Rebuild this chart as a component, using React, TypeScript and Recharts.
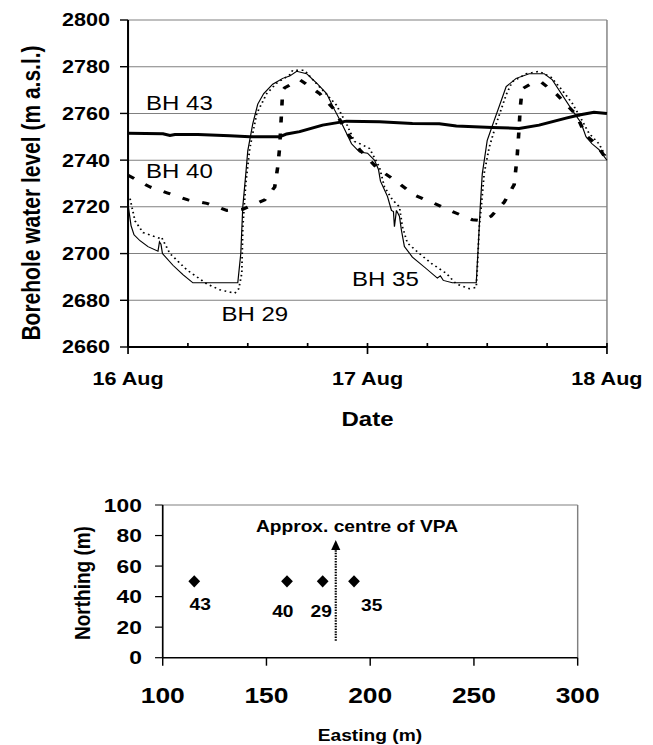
import React from 'react';
import {
  LineChart, Line, XAxis, YAxis, CartesianGrid, ReferenceLine, ReferenceDot,
  ScatterChart, Scatter,
} from 'recharts';

const FONT = 'Arial, "Liberation Sans", Helvetica, sans-serif';
// the original figure is stretched sideways, so the whole drawing is too
const STRETCH = 1.2;

// [hours after 16 Aug 00:00, water level m a.s.l.]
const BH43: [number, number][] = [
  [0, 2751.5], [3.5, 2751.3], [4.2, 2750.6], [4.7, 2751], [7, 2751], [10.2, 2750.4],
  [12.2, 2750], [13.9, 2750], [15.2, 2750], [15.9, 2751.2], [17.2, 2752.2], [19.5, 2755],
  [21.9, 2756.7], [25.2, 2756.4], [28.5, 2755.7], [31.2, 2755.6], [32.9, 2754.6],
  [36.5, 2754], [39.2, 2753.6], [41.2, 2755], [43.9, 2758], [45.2, 2759.3], [46.7, 2760.5],
  [48, 2760],
];

const BH40: [number, number][] = [
  [0, 2733.5], [2.2, 2728.5], [3.9, 2726], [6, 2723], [7.9, 2721.5], [9.9, 2718.5],
  [11.5, 2719], [13.7, 2723], [14.7, 2728.5], [15, 2737], [15.2, 2745.5], [15.3, 2754],
  [15.4, 2761.5], [15.5, 2770], [15.7, 2771], [17.2, 2774.5], [19.2, 2768.5], [20.7, 2761.5],
  [21.9, 2752], [23.2, 2744.5], [25, 2736.5], [26.7, 2731.5], [28.7, 2725], [30.7, 2721.5],
  [32.5, 2718], [34.5, 2714.5], [35.5, 2714], [36.4, 2716], [37.7, 2722], [38.7, 2729.5],
  [39, 2741.5], [39.2, 2754], [39.3, 2762], [39.5, 2770.5], [40.5, 2773], [41.4, 2773.5],
  [43, 2768], [44.9, 2759.5], [45.9, 2750.5], [46.9, 2747], [47.7, 2742],
];

const BH29: [number, number][] = [
  [0, 2721], [0.3, 2712], [0.6, 2708], [1.2, 2705.5], [2, 2703], [3, 2701], [3.15, 2705],
  [3.3, 2704], [3.45, 2700], [4.5, 2695], [5.5, 2691], [6.5, 2687.5], [11, 2687.5],
  [11.3, 2700], [11.5, 2720], [11.8, 2734], [12, 2744], [12.5, 2755.5], [13, 2764],
  [13.6, 2768.5], [14.5, 2772.5], [15.5, 2775], [16.2, 2776], [16.9, 2778], [17.9, 2777],
  [18.9, 2773], [19.9, 2768.5], [20.7, 2761.5], [21.5, 2755], [22.4, 2747], [23.2, 2743.5],
  [24, 2743], [24.7, 2740], [25.1, 2736], [25.3, 2731], [26, 2724.5], [26.4, 2718.5],
  [26.6, 2718], [26.7, 2711.5], [26.9, 2718.5], [27.2, 2716], [27.4, 2710], [27.7, 2703],
  [28.5, 2698.5], [29.9, 2693.5], [31, 2689.5], [31.3, 2690.5], [31.6, 2688.5],
  [32.5, 2687.5], [34.9, 2687.5], [35.1, 2703], [35.3, 2720], [35.5, 2734], [36, 2748.5],
  [36.7, 2757], [37.2, 2763], [37.9, 2771.5], [38.9, 2775], [40.2, 2777], [41.7, 2777],
  [42.5, 2774.5], [43.5, 2768], [44.5, 2761.5], [45.4, 2756], [45.9, 2750], [46.5, 2747],
  [47.2, 2744.5], [48, 2740],
];

const BH35: [number, number][] = [
  [0.2, 2723.5], [0.7, 2714], [1.5, 2709], [2.5, 2707.5], [3.2, 2706.5], [3.35, 2707],
  [4.2, 2700], [5.9, 2693], [7.9, 2687], [9.2, 2684.5], [10.7, 2683], [11.1, 2685],
  [11.4, 2691.5], [11.5, 2711], [11.8, 2730], [12.2, 2745], [12.9, 2760], [13.9, 2768.5],
  [14.9, 2773], [16.2, 2776.5], [16.5, 2778.5], [17.7, 2778.5], [18.5, 2774.5], [19.5, 2770],
  [20.9, 2763.5], [21.9, 2755.5], [22.7, 2748], [23.5, 2746.5], [24.2, 2745], [25.2, 2737],
  [25.7, 2728.5], [26.5, 2723], [27.2, 2720], [27.5, 2711.5], [28, 2704.5], [29.2, 2700],
  [30.5, 2695.5], [31.9, 2691.5], [32.9, 2687], [34.2, 2685], [34.9, 2685.5], [35, 2693],
  [35.2, 2711.5], [35.4, 2720], [35.7, 2734.5], [36.2, 2745.5], [36.9, 2755.5], [37.9, 2768],
  [38.5, 2773.5], [39.9, 2777], [41.2, 2778], [42.4, 2775.5], [43.4, 2770.5], [44.5, 2764.5],
  [45.5, 2757], [46.2, 2751.5], [47.2, 2747], [47.7, 2743], [48, 2741],
];

const LEVEL_TICKS = [2660, 2680, 2700, 2720, 2740, 2760, 2780, 2800];
const HOUR_TICKS = [0, 6, 12, 18, 24, 30, 36, 42, 48];
const DAY_LABELS: Record<number, string> = { 0: '16 Aug', 24: '17 Aug', 48: '18 Aug' };

const SERIES_NAMES = ['BH 43', 'BH 40', 'BH 29', 'BH 35'];
const NAME_HOURS = [5.15, 5.15, 12.7, 25.8];
const NAME_LEVELS = [2764.7, 2735.4, 2674, 2689.2];

// borehole location plan
const BOREHOLE_IDS = ['43', '40', '29', '35'];
const EASTING = [115.2, 159.9, 177.1, 192.2];
const NORTHING = [50, 50, 50, 50];
const ID_EASTING = [118.1, 157.9, 176.4, 200.7];
const ID_NORTHING = [31.2, 26.8, 26.8, 30.6];
const EASTING_TICKS = [100, 150, 200, 250, 300];
const NORTHING_TICKS = [0, 20, 40, 60, 80, 100];
const VPA_EASTING = 183.4;
const VPA_FROM = 11.1;
const VPA_TO = 77.1;

const toPoints = (arr: [number, number][]) => arr.map(([hour, level]) => ({ hour, level }));

const DateTick = (props: any) => {
  const { x, y, payload } = props;
  const major = payload.value % 24 === 0;
  return (
    <g>
      <line x1={x} x2={x} y1={y - 4} y2={major ? y + 7 : y} stroke="#000" strokeWidth={1.4} />
      {major && (
        <text x={x} y={y + 38} textAnchor="middle" fontSize={18} fontWeight="bold" fontFamily={FONT} fill="#000">
          {DAY_LABELS[payload.value]}
        </text>
      )}
    </g>
  );
};

const Diamond = (p: any) => (
  <polygon
    points={`${p.cx},${p.cy - 6.2} ${p.cx + 4.9},${p.cy} ${p.cx},${p.cy + 6.2} ${p.cx - 4.9},${p.cy}`}
    fill="#000"
  />
);

const IdLabel = (p: any) => (
  <text x={p.cx} y={p.cy} textAnchor="middle" fontSize={16} fontWeight="bold" fontFamily={FONT} fill="#000">
    {p.payload.id}
  </text>
);

const VpaArrow = (p: any) => {
  const { x1, y1, x2, y2 } = p;
  return (
    <g>
      <line x1={x1} y1={y1} x2={x2} y2={y2 + 9} stroke="#000" strokeWidth={1.8} strokeDasharray="1.5 1.2" />
      <polygon points={`${x2},${y2} ${x2 - 3.8},${y2 + 10} ${x2 + 3.8},${y2 + 10}`} fill="#000" />
    </g>
  );
};

export default function App() {
  const plan = EASTING.map((e, i) => ({ easting: e, northing: NORTHING[i], id: BOREHOLE_IDS[i] }));
  const planIds = ID_EASTING.map((e, i) => ({ easting: e, northing: ID_NORTHING[i], id: BOREHOLE_IDS[i] }));
  const tickFont = { fontWeight: 'bold', fill: '#000', fontFamily: FONT };

  return (
    <div style={{ position: 'absolute', left: 0, top: 0, width: 653, height: 745, overflow: 'hidden', background: '#fff' }}>
      <div style={{ width: 544, transform: `scale(${STRETCH}, 1)`, transformOrigin: '0 0' }}>
        <LineChart width={544} height={440} margin={{ top: 20, right: 38.2, bottom: 0, left: 0 }}>
          <CartesianGrid horizontal vertical={false} stroke="#808080" strokeWidth={1} />
          <ReferenceLine x={48} stroke="#808080" strokeWidth={1.2} />
          <XAxis
            dataKey="hour" type="number" domain={[0, 48]} ticks={HOUR_TICKS} interval={0}
            height={93} tickLine={false} tickSize={0} tickMargin={0} tick={<DateTick />}
            axisLine={{ stroke: '#000', strokeWidth: 2 }}
          />
          <YAxis
            type="number" domain={[2660, 2800]} ticks={LEVEL_TICKS} interval={0} width={106.7}
            tickSize={6.7} tickMargin={8.3} tick={{ ...tickFont, fontSize: 18 }}
            tickLine={{ stroke: '#000', strokeWidth: 1.4 }} axisLine={{ stroke: '#000', strokeWidth: 1.7 }}
          />
          <Line data={toPoints(BH43)} dataKey="level" stroke="#000" strokeWidth={3} dot={false} activeDot={false} isAnimationActive={false} />
          <Line data={toPoints(BH40)} dataKey="level" stroke="#000" strokeWidth={3} strokeDasharray="6 11" dot={false} activeDot={false} isAnimationActive={false} />
          <Line data={toPoints(BH29)} dataKey="level" stroke="#000" strokeWidth={1} dot={false} activeDot={false} isAnimationActive={false} />
          <Line data={toPoints(BH35)} dataKey="level" stroke="#000" strokeWidth={1.5} strokeDasharray="1.5 3" dot={false} activeDot={false} isAnimationActive={false} />
          {SERIES_NAMES.map((name, i) => (
            <ReferenceDot
              key={name} x={NAME_HOURS[i]} y={NAME_LEVELS[i]} r={0} fill="none" stroke="none"
              label={{ value: name, position: 'center', fontSize: 20, fill: '#000', fontFamily: FONT }}
            />
          ))}
          <text
            transform="translate(33.3, 193) rotate(-90)" textAnchor="middle"
            fontSize={21} fontWeight="bold" fontFamily={FONT} fill="#000"
          >
            Borehole water level (m a.s.l.)
          </text>
          <text x={306.3} y={426} textAnchor="middle" fontSize={20} fontWeight="bold" fontFamily={FONT} fill="#000">
            Date
          </text>
        </LineChart>

        <ScatterChart width={544} height={305} margin={{ top: 65, right: 62.6, bottom: 0, left: 0 }}>
          <ReferenceLine y={100} stroke="#808080" strokeWidth={1.2} />
          <ReferenceLine x={300} stroke="#808080" strokeWidth={1.2} />
          <XAxis
            dataKey="easting" type="number" domain={[100, 300]} ticks={EASTING_TICKS} interval={0}
            height={87.3} tickSize={8} tickMargin={21.5} tick={{ ...tickFont, fontSize: 22 }}
            tickLine={{ stroke: '#000', strokeWidth: 1.2 }} axisLine={{ stroke: '#000', strokeWidth: 1.6 }}
          />
          <YAxis
            dataKey="northing" type="number" domain={[0, 100]} ticks={NORTHING_TICKS} interval={0} width={135.6}
            tickSize={6.4} tickMargin={11} tick={{ ...tickFont, fontSize: 19 }}
            tickLine={{ stroke: '#000', strokeWidth: 1.2 }} axisLine={{ stroke: '#000', strokeWidth: 1.4 }}
          />
          <ReferenceLine
            segment={[{ x: VPA_EASTING, y: VPA_FROM }, { x: VPA_EASTING, y: VPA_TO }]}
            shape={<VpaArrow />}
          />
          <Scatter data={plan} shape={<Diamond />} isAnimationActive={false} />
          <Scatter data={planIds} shape={<IdLabel />} isAnimationActive={false} />
          <text x={297.5} y={92} textAnchor="middle" fontSize={16} fontWeight="bold" fontFamily={FONT} fill="#000">
            Approx. centre of VPA
          </text>
          <text
            transform="translate(74.6, 143) rotate(-90)" textAnchor="middle"
            fontSize={19} fontWeight="bold" fontFamily={FONT} fill="#000"
          >
            Northing (m)
          </text>
          <text x={308.3} y={301} textAnchor="middle" fontSize={16} fontWeight="bold" fontFamily={FONT} fill="#000">
            Easting (m)
          </text>
        </ScatterChart>
      </div>
    </div>
  );
}
